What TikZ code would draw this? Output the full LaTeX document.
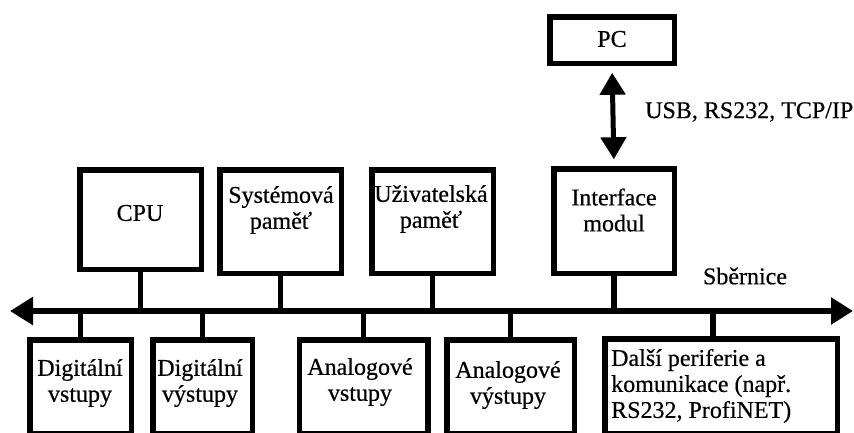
\documentclass[tikz,border=0pt]{standalone}
\usepackage{fontspec}
\setmainfont{Liberation Serif}[FakeBold=0.5]
\usetikzlibrary{arrows.meta}

\tikzset{
  box/.style={draw=black, line width=5.5pt, inner sep=0pt, fill=white},
  wire/.style={draw=black, line width=5.5pt},
  busline/.style={draw=black, line width=5.5pt, {Triangle[length=23pt,width=27pt]}-{Triangle[length=22pt,width=26pt]}},
  link/.style={draw=black, line width=5pt, {Triangle[length=22pt,width=25pt]}-{Triangle[length=22pt,width=25pt]}, shorten <=6.75pt, shorten >=6.75pt},
  lbl/.style={inner sep=0pt, align=center, font=\fontsize{24}{26}\selectfont},
  lbll/.style={inner sep=0pt, align=left, font=\fontsize{24}{26}\selectfont},
}

\begin{document}
\begin{tikzpicture}[x=1pt,y=-1pt]
\useasboundingbox (0,0) rectangle (854,432);
\clip (0,0) rectangle (854,432);

% upper modules
\node[box, minimum width=121.5pt, minimum height=99.5pt]  (cpu) at (140.5,219.5) {};
\node[box, minimum width=121.5pt, minimum height=103.5pt] (sys) at (280.5,221.5) {};
\node[box, minimum width=121.5pt, minimum height=103.5pt] (usr) at (432.5,221.5) {};
\node[box, minimum width=120.5pt, minimum height=104.5pt] (ifc) at (614,221) {};
\node[box, minimum width=124.5pt, minimum height=46.5pt]  (pc)  at (612,40) {};

\node[lbl] (cpuT) at (140,213) {CPU};
\node[lbl] (sysT) at (281,210) {Systémová\\paměť};
\node[lbl] (usrT) at (431,209) {Uživatelská\\paměť};
\node[lbl] (ifcT) at (614,210) {Interface\\modul};
\node[lbl] (pcT)  at (612,39) {PC};

% lower modules (their lower edge runs off the page)
\node[box, minimum width=101.5pt, minimum height=94pt] (din)  at (80.5,386.75) {};
\node[box, minimum width=99.5pt,  minimum height=94pt] (dout) at (202.5,386.75) {};
\node[box, minimum width=128.5pt, minimum height=94pt] (ain)  at (363.5,386.75) {};
\node[box, minimum width=127.5pt, minimum height=94pt] (aout) at (510.5,386.75) {};
\node[box, minimum width=232.5pt, minimum height=95pt] (more) at (721,386.25) {};

\node[lbl] (dinT)  at (80,383) {Digitální\\vstupy};
\node[lbl] (doutT) at (200,383) {Digitální\\výstupy};
\node[lbl] (ainT)  at (360,382) {Analogové\\vstupy};
\node[lbl] (aoutT) at (508,385) {Analogové\\výstupy};
\node[lbll, anchor=west] (moreT) at (611,386) {Další periferie a\\komunikace (např.\\RS232, ProfiNET)};

% system bus
\coordinate (busL) at (10,311);
\coordinate (busR) at (853,311);
\draw[busline] (busL) -- (busR);
\node[lbl] (busT) at (745,276) {Sběrnice};

% stems from the modules to the bus
\foreach \m in {cpu,sys,usr,ifc}
  \draw[wire] (\m.south) -- (\m.south |- busL);
\foreach \m in {din,dout,ain,aout}
  \draw[wire] (\m.north) -- (\m.north |- busL);
\draw[wire] ([xshift=-8pt]more.north) -- ([xshift=-8pt]more.north |- busL);

% PC link
\draw[link] (pc.south) -- (ifc.north);
\node[lbll, anchor=west] (linkT) at (645,112) {USB, RS232, TCP/IP};
\end{tikzpicture}
\end{document}
